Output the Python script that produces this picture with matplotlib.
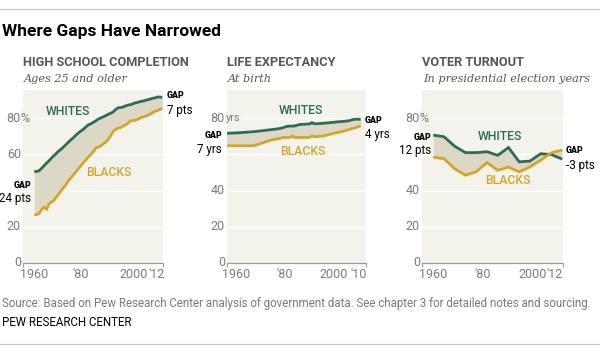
import matplotlib
matplotlib.use('Agg')
import matplotlib.pyplot as plt
from matplotlib.transforms import blended_transform_factory, ScaledTranslation
from matplotlib.lines import Line2D

# ---------------- data ----------------
hs_years = list(range(1960, 2013))
hs_whites = [50.5, 50.6, 51.0, 52.3, 53.8, 55.2, 56.5, 58.0, 59.3, 60.6,
             62.0, 63.0, 64.3, 65.6, 67.0, 68.2, 69.4, 70.8, 72.0, 73.0,
             74.0, 75.3, 76.4, 77.0, 77.8, 78.6, 79.6, 80.2, 80.8, 81.5,
             82.2, 82.8, 83.5, 84.8, 85.8, 86.0, 86.2, 86.9, 87.3, 87.6,
             88.0, 88.6, 88.8, 89.3, 89.5, 89.9, 90.3, 90.6, 91.1, 91.3,
             91.8, 91.8, 91.6]
hs_blacks = [26.5, 26.6, 27.3, 29.5, 30.8, 29.6, 32.6, 33.6, 34.6, 36.5,
             38.2, 40.0, 41.8, 43.5, 45.5, 47.3, 48.8, 50.5, 52.2, 53.8,
             55.5, 57.0, 58.6, 60.0, 61.5, 63.6, 64.0, 64.8, 65.8, 66.8,
             68.2, 70.3, 72.6, 73.8, 74.6, 74.8, 75.6, 76.3, 77.2, 78.6,
             78.8, 78.8, 79.5, 80.2, 80.7, 81.0, 81.6, 82.2, 83.1, 83.9,
             84.3, 84.9, 85.5]

le_years = [1955, 1960, 1966, 1968, 1970, 1973, 1975, 1977, 1978, 1980, 1981,
            1982, 1983, 1985, 1989, 1990, 1991, 1992, 1995, 1999, 2000, 2003,
            2005, 2007, 2008, 2010]
le_whites = [71.7, 72.0, 72.6, 72.9, 73.2, 73.7, 74.0, 74.4, 74.8, 75.6, 75.7,
             75.7, 75.8, 76.6, 76.9, 77.6, 77.0, 77.0, 77.3, 77.8, 78.0, 78.3,
             78.6, 79.4, 79.5, 79.5]
le_blacks = [64.8, 64.8, 64.8, 65.6, 66.5, 67.9, 68.4, 68.9, 69.4, 69.4, 69.4,
             70.2, 69.3, 69.4, 69.4, 70.3, 69.8, 69.9, 70.3, 71.7, 72.0, 72.9,
             73.7, 74.5, 74.9, 75.8]

vt_years = [1964, 1968, 1972, 1976, 1980, 1984, 1988, 1992, 1996, 2000,
            2004, 2008, 2012]
vt_whites = [70.7, 69.8, 64.5, 61.0, 61.0, 61.5, 59.5, 63.8, 55.9, 56.3,
             60.4, 59.9, 57.4]
vt_blacks = [58.5, 57.6, 52.0, 48.5, 50.4, 55.5, 51.2, 53.0, 50.3, 53.1,
             56.8, 60.9, 62.4]

x_labels_hs = ['1960', "'80", '2000', "'12"]
x_labels_le = ['1960', "'80", '2000', "'10"]
x_labels_vt = ['1960', "'80", '2000', "'12"]
y_values = [0, 20, 40, 60, 80]

# ---------------- style ----------------
W, H = 600, 350
fig = plt.figure(figsize=(6, 3.5), dpi=100)
plt.rcParams['font.family'] = ['Roboto', 'DejaVu Sans']

BG = '#f3f3ec'
GREEN = '#2b6d56'
GOLD = '#d5a52b'
FILL = '#dcd8c5'
TICK = '#7c7c7c'
TITLE_GRAY = '#575757'

def px(x0, x1, ytop, ybot):
    return [x0 / W, 1 - ybot / H, (x1 - x0) / W, (ybot - ytop) / H]

def panel(rect, xlim, years, whites, blacks, xt_pos, xt_labels,
          hidden_y, suffix, suffix_size, suffix_dx):
    ax = fig.add_axes(rect)
    ax.set_facecolor(BG)
    ax.set_xlim(*xlim)
    ax.set_ylim(0, 95.7)
    for s in ['top', 'right', 'left']:
        ax.spines[s].set_visible(False)
    ax.spines['bottom'].set_color('#9a9a9a')
    ax.spines['bottom'].set_linewidth(0.9)
    ax.set_yticks([])
    for v in y_values[1:]:
        ax.axhline(v, color='white', lw=1.0, zorder=0.5)
    ax.fill_between(years, whites, blacks, color=FILL, lw=0, zorder=1)
    ax.plot(years, whites, color=GREEN, lw=2.0, zorder=3,
            solid_capstyle='butt', solid_joinstyle='miter')
    ax.plot(years, blacks, color=GOLD, lw=2.0, zorder=3,
            solid_capstyle='butt', solid_joinstyle='miter')
    ax.set_xticks(xt_pos)
    ax.set_xticklabels(xt_labels)
    ax.set_xticks(list(xlim), minor=True)
    ax.tick_params(axis='x', which='major', length=0, pad=3.5,
                   labelsize=9, labelcolor=TICK)
    ax.tick_params(axis='x', which='minor', length=3, width=0.8,
                   color='#9a9a9a')
    tr = blended_transform_factory(ax.transAxes, ax.transData) + \
        ScaledTranslation(-1.8 / 100, 0, fig.dpi_scale_trans)
    tr2 = blended_transform_factory(ax.transAxes, ax.transData) + \
        ScaledTranslation(suffix_dx / 100, 0, fig.dpi_scale_trans)
    for v in y_values:
        if v == hidden_y:
            continue
        ax.text(0, v, str(v), transform=tr, ha='right', va='center',
                fontsize=9, color=TICK, clip_on=False, zorder=4)
    ax.text(0, 80, suffix, transform=tr2, ha='left', va='center',
            fontsize=suffix_size, color=TICK, clip_on=False, zorder=4,
            bbox=dict(fc=BG, ec='none', pad=0.6))
    return ax

ax1 = panel(px(22.7, 163, 90, 262.7), (1955.3, 2012.3), hs_years,
            hs_whites, hs_blacks, [1960, 1978.8, 2000.3, 2009.8],
            x_labels_hs, 40, '%', 9, -2.2)
ax2 = panel(px(226.7, 366, 90, 262.7), (1955, 2012.2), le_years,
            le_whites, le_blacks, [1959.0, 1978.9, 1999.0, 2009.1],
            x_labels_le, 60, 'yrs', 7.8, -0.5)
ax3 = panel(px(421.7, 563, 90, 262.7), (1959.7, 2012.3), vt_years,
            vt_whites, vt_blacks, [1964, 1982.4, 2001.1, 2009.3],
            x_labels_vt, 60, '%', 9, -2.2)

# panel titles / subtitles (figure pixel coords)
def ftext(x, y, s, **kw):
    fig.text(x / W, 1 - y / H, s, **kw)

titles = [(22.7, 'HIGH SCHOOL COMPLETION', 'Ages 25 and older'),
          (226.7, 'LIFE EXPECTANCY', 'At birth'),
          (421.7, 'VOTER TURNOUT', 'In presidential election years')]
for x, t, st in titles:
    ftext(x, 63, t, ha='left', va='center', fontsize=9.2, fontweight='bold',
          color=TITLE_GRAY)
    ftext(x + 1, 79, st, ha='left', va='center', fontsize=8.1,
          style='italic', family='DejaVu Serif', color=TITLE_GRAY)

# series labels
def series_labels(ax, wx, wy, bx, by):
    ax.text(wx, wy, 'WHITES', ha='center', va='center', fontsize=8.8,
            color=GREEN, fontweight='medium', zorder=5)
    ax.text(bx, by, 'BLACKS', ha='center', va='center', fontsize=8.8,
            color=GOLD, fontweight='medium', zorder=5)

series_labels(ax1, 1973.5, 83.7, 1990.3, 49.9)
series_labels(ax2, 1985.5, 84.6, 1986.3, 61.5)
series_labels(ax3, 1988.9, 70.2, 1991.6, 45.6)

# gap annotations
def gap(ax, x, y_gap, y_val, txt, ha):
    ax.text(x, y_gap, 'GAP', ha=ha, va='center', fontsize=6.3,
            fontweight='black', color='black', clip_on=False, zorder=5)
    ax.text(x, y_val, txt, ha=ha, va='center', fontsize=8.4,
            color='black', clip_on=False, zorder=5)

gap(ax1, 1958.9, 43.0, 35.7, '24 pts', 'right')
gap(ax1, 2013.8, 92.5, 84.6, '7 pts', 'left')
gap(ax2, 1953.1, 70.7, 63.0, '7 yrs', 'right')
gap(ax2, 2011.8, 78.7, 71.3, '4 yrs', 'left')
gap(ax3, 1963.4, 69.5, 62.0, '12 pts', 'right')
gap(ax3, 2013.4, 62.0, 54.1, '-3 pts', 'left')

# header / footer
fig.add_artist(Line2D([0, 1], [1 - 9.3 / H] * 2, color='#c8c8c8', lw=0.9))
ftext(2.5, 31.5, 'Where Gaps Have Narrowed', ha='left', va='center',
      fontsize=12.5, fontweight='bold', color='black')
ftext(2.5, 303, 'Source: Based on Pew Research Center analysis of government '
      'data. See chapter 3 for detailed notes and sourcing.', ha='left',
      va='center', fontsize=8.3, color='#7a7a7a')
ftext(2.5, 322, 'PEW RESEARCH CENTER', ha='left', va='center',
      fontsize=8.3, color='black')
fig.add_artist(Line2D([0, 1], [1 - 344 / H] * 2, color='#c8c8c8', lw=0.9))

fig.savefig('out.png', dpi=100, facecolor='white')
